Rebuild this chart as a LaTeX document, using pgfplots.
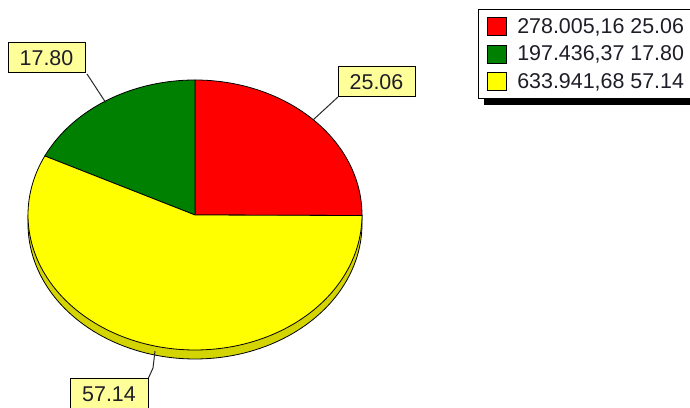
\documentclass[border=0pt]{standalone}
\usepackage{fontspec}
\setmainfont{Liberation Sans}
\usepackage{pgfplots}
\pgfplotsset{compat=1.18}
\pgfdeclarelayer{background}
\pgfsetlayers{background,main}
\definecolor{pieRed}{RGB}{255,0,0}
\definecolor{pieGreen}{RGB}{0,128,0}
\definecolor{pieYellow}{RGB}{255,255,0}
\definecolor{wallYellow}{RGB}{212,212,0}
\definecolor{labelYellow}{RGB}{255,255,153}
\definecolor{leader}{RGB}{40,40,40}
\definecolor{txt}{RGB}{30,30,40}
% data: shares in percent
\def\vRed{25.06}
\def\vGreen{17.80}
\def\vYellow{57.14}
\pgfmathsetmacro{\aA}{90-3.6*\vRed}
\pgfmathsetmacro{\aB}{90+3.6*\vGreen}
\pgfmathsetmacro{\aC}{\aB+3.6*\vYellow}
\begin{document}
\begin{tikzpicture}
\clip (0,0) rectangle (690bp,408bp);
\begin{axis}[
  at={(0,0)}, anchor=south west,
  scale only axis, width=690bp, height=408bp,
  xmin=0, xmax=690, ymin=0, ymax=408,
  hide axis, clip=false,
  legend cell align=left,
  legend image code/.code={\draw[#1, line width=0.8bp] (0bp,-9bp) rectangle (19bp,9bp);},
  legend style={at={(axis cs:478,399)}, anchor=north west, name=leg,
    draw=black, line width=1bp, fill=white,
    font=\fontsize{21.5}{24}\selectfont, text=txt,
    inner xsep=8bp, inner ysep=7bp, row sep=7bp, column sep=9bp},
]
% side wall
\addplot[fill=wallYellow, draw=black, line width=0.8bp, domain=180:360, samples=90, variable=\t, forget plot]
  ({195+167*cos(\t)}, {184+135*sin(\t)}) -- (362,193) -- (28,193) -- cycle;
% slices
\addplot[fill=pieRed, draw=black, line width=0.8bp, domain=\aA:90, samples=60, variable=\t]
  ({195+167*cos(\t)}, {193+135*sin(\t)}) -- (195,193) -- cycle;
\addlegendentry{278.005,16 25.06\hspace{20bp}}
\addplot[fill=pieGreen, draw=black, line width=0.8bp, domain=90:\aB, samples=50, variable=\t]
  ({195+167*cos(\t)}, {193+135*sin(\t)}) -- (195,193) -- cycle;
\addlegendentry{197.436,37 17.80\hspace{20bp}}
\addplot[fill=pieYellow, draw=black, line width=0.8bp, domain=\aB:\aC, samples=120, variable=\t]
  ({195+167*cos(\t)}, {193+135*sin(\t)}) -- (195,193) -- cycle;
\addlegendentry{633.941,68 57.14\hspace{20bp}}
% leader lines
\draw[leader, line width=1bp] (axis cs:87,334) -- (axis cs:106,305);
\draw[leader, line width=1bp] (axis cs:338,311) -- (axis cs:313,288);
\draw[leader, line width=1bp] (axis cs:148,29) -- (axis cs:153,40) -- (axis cs:155,57);
% value labels
\node[draw=black, line width=1bp, fill=labelYellow, minimum width=77bp, minimum height=30bp, inner sep=0pt,
  font=\fontsize{21.5}{24}\selectfont, text=txt] at (axis cs:46.5,350) {17.80};
\node[draw=black, line width=1bp, fill=labelYellow, minimum width=77bp, minimum height=30bp, inner sep=0pt,
  font=\fontsize{21.5}{24}\selectfont, text=txt] at (axis cs:376.5,326) {25.06};
\node[draw=black, line width=1bp, fill=labelYellow, minimum width=78bp, minimum height=30bp, inner sep=0pt,
  font=\fontsize{21.5}{24}\selectfont, text=txt] at (axis cs:109,14) {57.14};
\end{axis}
\begin{pgfonlayer}{background}
\fill[black] ([shift={(6bp,-6bp)}]leg.south west) rectangle ([shift={(6bp,-6bp)}]leg.north east);
\end{pgfonlayer}
\end{tikzpicture}
\end{document}
